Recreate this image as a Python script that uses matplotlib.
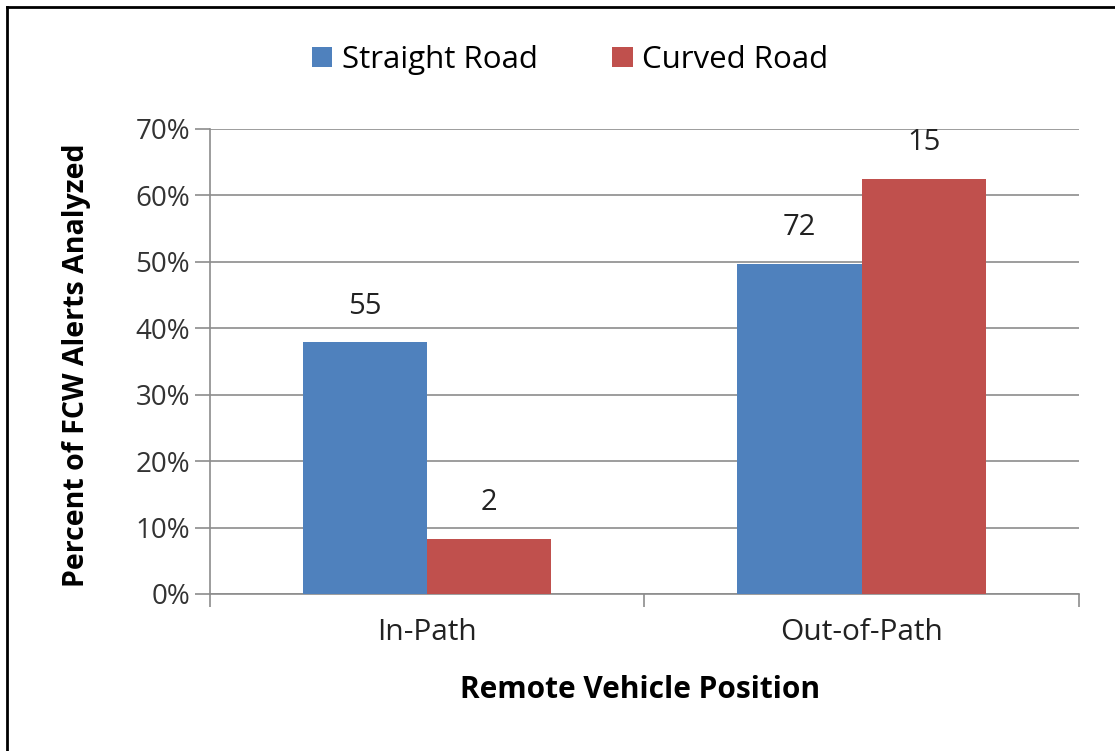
import numpy as np
import matplotlib
matplotlib.use("Agg")
import matplotlib.pyplot as plt
from matplotlib.lines import Line2D

categories = ["In-Path", "Out-of-Path"]
series_names = ["Straight Road", "Curved Road"]
straight_pct = [37.9, 49.7]
curved_pct = [8.3, 62.5]
straight_counts = ["55", "72"]
curved_counts = ["2", "15"]
y_ticks = [0, 10, 20, 30, 40, 50, 60, 70]

blue = "#4F81BD"
red = "#C0504D"
grid_c = "#8C8C8C"
txt_c = "#222222"

plt.rcParams["font.family"] = ["Open Sans", "DejaVu Sans"]

fig = plt.figure(figsize=(11.15, 7.51), dpi=100)
ax = fig.add_axes([209.5 / 1115, 1 - 594 / 751, (1079 - 209.5) / 1115, (594 - 129) / 751])

x = np.arange(len(categories))
w = 0.2857
b1 = ax.bar(x - w / 2, straight_pct, w, color=blue, label=series_names[0], zorder=3)
b2 = ax.bar(x + w / 2, curved_pct, w, color=red, label=series_names[1], zorder=3)

for bars, labels in [(b1, straight_counts), (b2, curved_counts)]:
    for rect, lab in zip(bars, labels):
        ax.annotate(lab, (rect.get_x() + rect.get_width() / 2, rect.get_height()),
                    xytext=(0, 36), textcoords="offset pixels",
                    ha="center", va="center", fontsize=21, color=txt_c)

ax.set_xlim(-0.5, 1.5)
ax.set_ylim(0, 70)
ax.set_yticks(y_ticks)
ax.set_yticklabels([f"{t}%" for t in y_ticks], fontsize=20, color="#333333")
ax.yaxis.grid(True, color=grid_c, linewidth=1.2, zorder=0)
ax.tick_params(axis="y", length=11, color=grid_c, width=1.2, pad=3)

# category ticks sit at the group boundaries
ax.set_xticks([-0.5, 0.5, 1.5])
ax.set_xticklabels([])
ax.set_xticks(x, minor=True)
ax.set_xticklabels(categories, minor=True, fontsize=21.5, color=txt_c)
ax.tick_params(axis="x", which="major", length=9, color=grid_c, width=1.2)
ax.tick_params(axis="x", which="minor", length=0, pad=17)

for s in ["top", "right"]:
    ax.spines[s].set_visible(False)
ax.spines["left"].set_color(grid_c)
ax.spines["bottom"].set_color(grid_c)
ax.spines["left"].set_linewidth(1.2)
ax.spines["bottom"].set_linewidth(1.2)

ax.set_ylabel("Percent of FCW Alerts Analyzed", fontsize=20.5, fontweight="bold", va="center")
ax.yaxis.set_label_coords((77 - 209.5) / 869.5, (594 - 365) / 465)
ax.set_xlabel("Remote Vehicle Position", fontsize=21.5, fontweight="bold", va="center")
ax.xaxis.set_label_coords((640 - 209.5) / 869.5, (594 - 690) / 465)

fig.legend(handles=[b1, b2], labels=series_names, loc="center", bbox_to_anchor=(570 / 1115, 1 - 60 / 751),
           ncol=2, frameon=False, fontsize=22.5, handlelength=0.65, handleheight=0.65,
           handletextpad=0.3, columnspacing=2.4)

# outer frame, top and left edges only
fig.add_artist(Line2D([7 / 1115, 1], [1 - 7 / 751, 1 - 7 / 751], transform=fig.transFigure, color="black", lw=2))
fig.add_artist(Line2D([7 / 1115, 7 / 1115], [0, 1 - 7 / 751], transform=fig.transFigure, color="black", lw=2))

fig.savefig("out.png", dpi=100, facecolor="white")
